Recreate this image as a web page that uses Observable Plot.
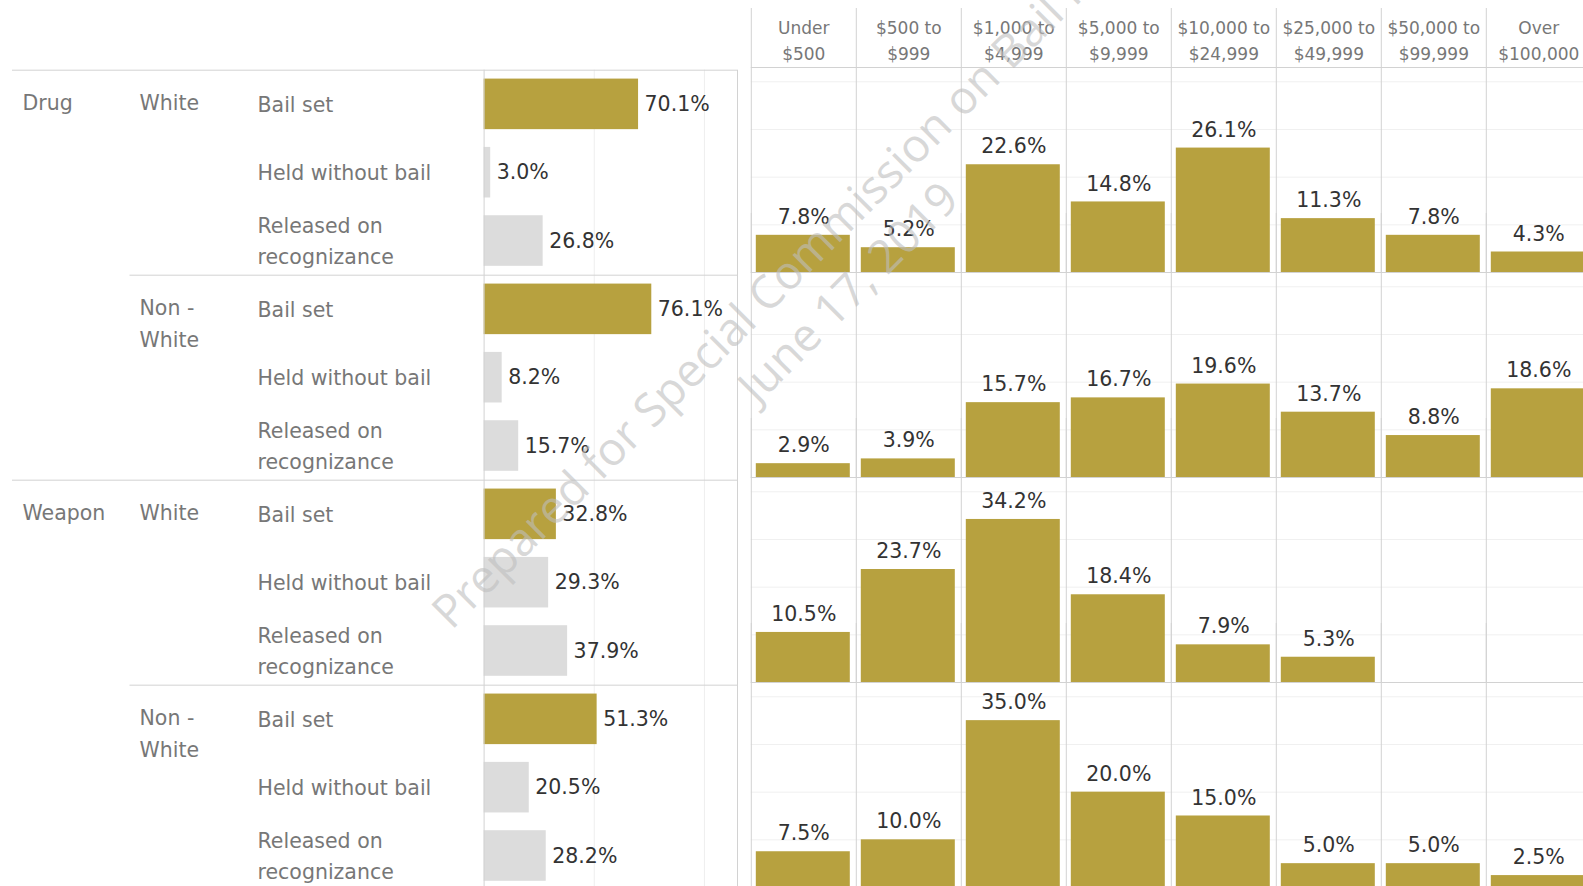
<!DOCTYPE html>
<html>
<head>
<meta charset="utf-8">
<script src="https://cdn.jsdelivr.net/npm/d3@7"></script>
<script src="https://cdn.jsdelivr.net/npm/@observablehq/plot@0.6"></script>
<style>
  html, body { margin: 0; padding: 0; overflow: hidden; background: #fff; }
  #wrap { position: relative; width: 1583px; height: 886px; overflow: hidden; background: #fff; }
  #left { position: absolute; left: 0; top: 0; width: 745px; }
  #right { position: absolute; left: 745px; top: 0; width: 860px; }
  #wrap svg { max-width: none !important; }
  #watermark {
    position: absolute; left: 827px; top: 271px;
    transform: translate(-50%, -50%) rotate(-45deg);
    white-space: pre; text-align: center;
    font-family: "Open Sans", sans-serif; font-size: 46px; line-height: 57px;
    color: rgba(190, 190, 190, 0.6); pointer-events: none; z-index: 5;
  }
</style>
</head>
<body>
<div id="wrap">
  <div id="left"></div>
  <div id="right"></div>
  <div id="watermark">Prepared for Special Commission on Bail Reform
June 17, 2019</div>
</div>
<script>
// ---- data ----
const offenses = ["Drug", "Weapon"];
const races = ["White", "Non -\nWhite"];
const outcomes = ["Bail set", "Held without bail", "Released on\nrecognizance"];
// percent of cases by outcome, one row per offense × race group
const outcomePct = [
  [70.1, 3.0, 26.8],   // Drug, White
  [76.1, 8.2, 15.7],   // Drug, Non-White
  [32.8, 29.3, 37.9],  // Weapon, White
  [51.3, 20.5, 28.2]   // Weapon, Non-White
];
const bailAmounts = ["Under\n$500", "$500 to\n$999", "$1,000 to\n$4,999", "$5,000 to\n$9,999",
  "$10,000 to\n$24,999", "$25,000 to\n$49,999", "$50,000 to\n$99,999", "Over\n$100,000"];
// percent of bail-set cases by bail amount, one row per offense × race group
const bailPct = [
  [7.8, 5.2, 22.6, 14.8, 26.1, 11.3, 7.8, 4.3],
  [2.9, 3.9, 15.7, 16.7, 19.6, 13.7, 8.8, 18.6],
  [10.5, 23.7, 34.2, 18.4, 7.9, 5.3, null, null],
  [7.5, 10.0, 35.0, 20.0, 15.0, 5.0, 5.0, 2.5]
];

// ---- derived tables ----
const groups = [];
offenses.forEach((o, oi) => races.forEach((r, ri) => groups.push({offense: o, race: r, oi, ri, key: o + "|" + r})));
const nOut = outcomes.length;
const outcomeRows = outcomePct.flatMap((vals, g) => vals.map((v, k) => ({
  g, k, row: g * nOut + k, outcome: outcomes[k], pct: v
})));
const bailRows = bailPct.flatMap((vals, g) => vals.map((v, i) => ({
  g, key: groups[g].key, i, amount: bailAmounts[i], pct: v
}))).filter(d => d.pct != null);

const gold = "#b7a13f";
const grey = "#dcdcdc";
const lineC = "#d2d2d2";
const labelC = "#777777";
const valueC = "#333333";
const font = "DejaVu Sans, sans-serif";
const fmt = v => d3.format(".1f")(v) + "%";

// ---- left panel: outcome bars ----
const nRows = groups.length * nOut;
const L = {width: 745, height: 900, left: 483.6, right: 737, top: 69.7};
const leftPlot = Plot.plot({
  width: L.width,
  height: L.height,
  marginLeft: L.left,
  marginRight: L.width - L.right,
  marginTop: L.top,
  marginBottom: L.height - (L.top + nRows * 68.33),
  style: {fontFamily: font, fontSize: "20px", background: "transparent"},
  x: {domain: [0, 115], axis: null},
  y: {domain: [0, nRows], reverse: true, axis: null},
  marks: [
    Plot.ruleX([50, 100], {stroke: "#eeeeee"}),
    Plot.rectX(outcomeRows, {
      x: "pct", y1: d => d.row + 0.13, y2: d => d.row + 0.87,
      fill: d => d.k === 0 ? gold : grey
    }),
    Plot.ruleX([0, 115], {stroke: lineC}),
    // separators between offenses (extend to first column) and races (extend to race column)
    Plot.ruleY(offenses.map((o, oi) => oi * races.length * nOut), {stroke: lineC, insetLeft: -(L.left - 12)}),
    Plot.ruleY(groups.filter(g => g.ri > 0).map((g) => groups.indexOf(g) * nOut), {stroke: lineC, insetLeft: -(L.left - 129.5)}),
    Plot.text(outcomeRows, {
      x: "pct", y: d => d.row + 0.5, text: d => fmt(d.pct),
      textAnchor: "start", dx: 6, fill: valueC, fontSize: 20.5
    }),
    Plot.text(outcomeRows, {
      frameAnchor: "left", y: d => d.row + 0.5, text: "outcome",
      textAnchor: "start", dx: 257 - L.left, dy: -2.5, fill: labelC, fontSize: 20.5, lineHeight: 1.49
    }),
    Plot.text(groups, {
      frameAnchor: "left", y: (d, i) => i * nOut + 0.5, text: "race",
      textAnchor: "start", lineAnchor: "top", dy: -16, dx: 139 - L.left,
      fill: labelC, fontSize: 20.5, lineHeight: 1.52
    }),
    Plot.text(groups.filter(g => g.ri === 0), {
      frameAnchor: "left", y: d => groups.indexOf(d) * nOut + 0.5, text: "offense",
      textAnchor: "start", dx: 22 - L.left, dy: -1, fill: labelC, fontSize: 20.5
    })
  ]
});
document.getElementById("left").append(leftPlot);

// ---- right panel: bail amount columns, faceted by group ----
const R = {width: 860, height: 900, left: 5.8, top: 67, rowH: 205, colW: 105};
const nCols = bailAmounts.length;
const rightPlot = Plot.plot({
  width: R.width,
  height: R.height,
  marginLeft: R.left,
  marginRight: R.width - (R.left + nCols * R.colW),
  marginTop: R.top,
  marginBottom: R.height - (R.top + groups.length * R.rowH),
  style: {fontFamily: font, fontSize: "20px", background: "transparent"},
  x: {domain: [0, nCols], axis: null},
  y: {domain: [0, 43], axis: null},
  fy: {domain: groups.map(g => g.key), padding: 0, axis: null},
  marks: [
    Plot.ruleY([10, 20, 30, 40], {stroke: "#f0f0f0"}),
    Plot.rectY(bailRows, {
      x1: "i", x2: d => d.i + 1, y: "pct", fy: "key",
      insetLeft: 5, insetRight: 6, fill: gold
    }),
    Plot.ruleY([0, 43], {stroke: lineC}),
    Plot.ruleX(d3.range(nCols + 1), {stroke: lineC, insetTop: -59}),
    Plot.text(bailRows, {
      x: d => d.i + 0.5, y: "pct", fy: "key", text: d => fmt(d.pct),
      dy: -18, fill: valueC, fontSize: 20.5
    }),
    Plot.text(bailAmounts, {
      x: (d, i) => i + 0.5, fy: () => groups[0].key, frameAnchor: "top", lineAnchor: "middle",
      text: d => d, dy: -28.5, lineHeight: 1.5, fill: labelC, fontSize: 17
    })
  ]
});
document.getElementById("right").append(rightPlot);
</script>
</body>
</html>
